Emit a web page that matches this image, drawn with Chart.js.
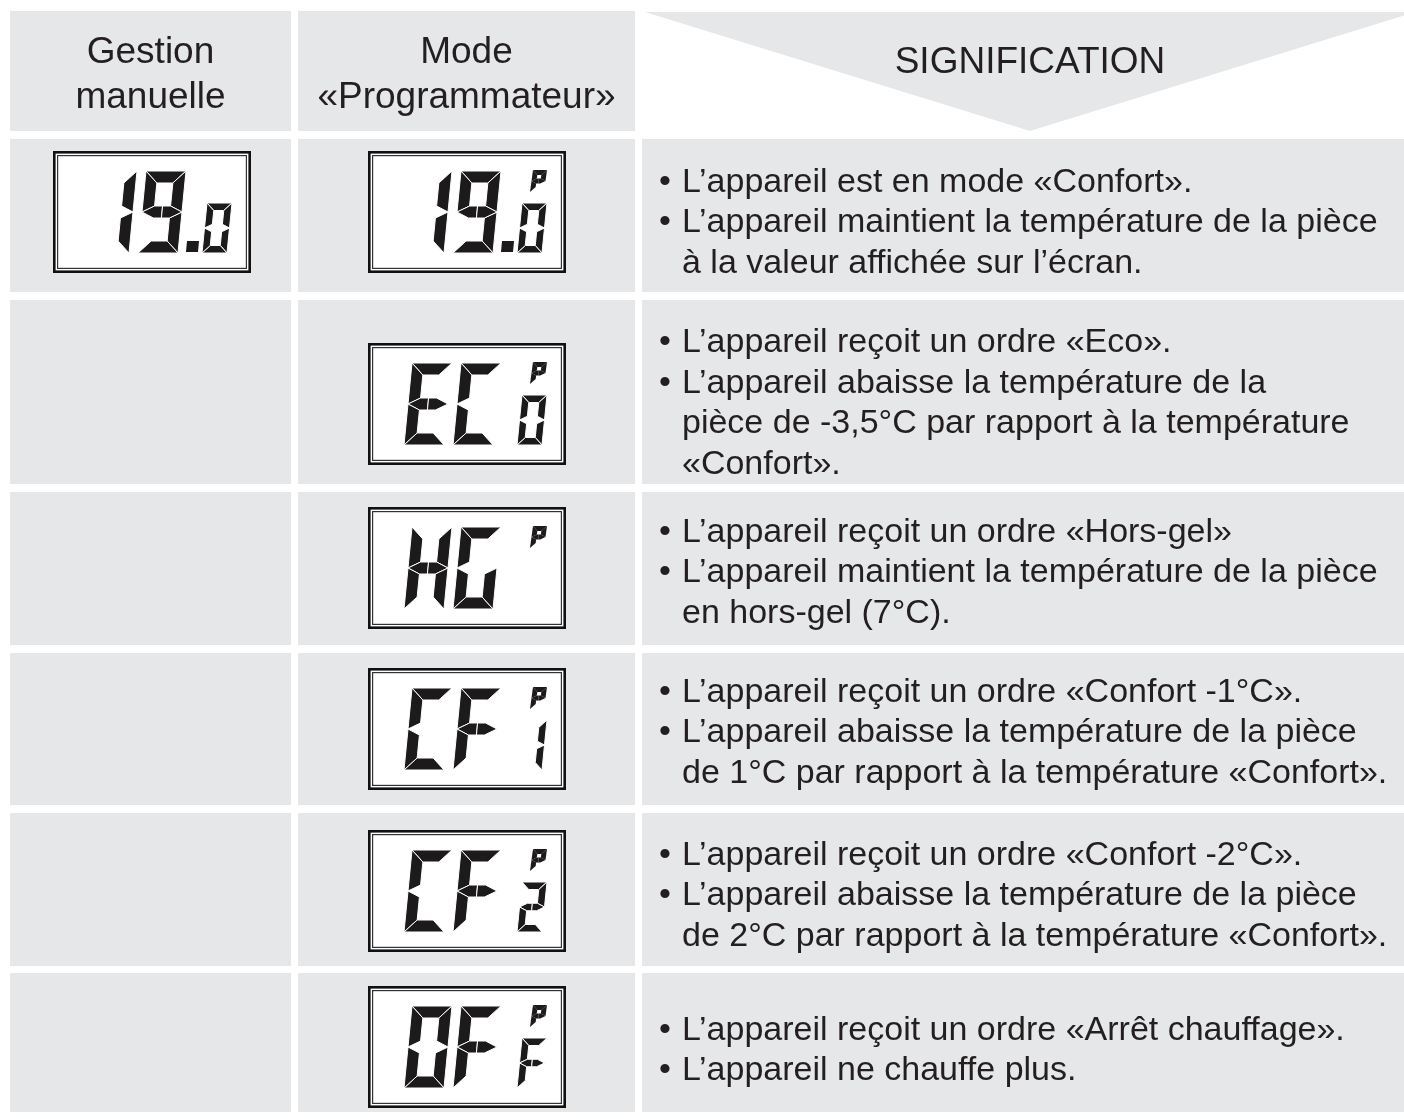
<!DOCTYPE html>
<html>
<head>
<meta charset="utf-8">
<script src="https://cdn.jsdelivr.net/npm/chart.js@4.4.1/dist/chart.umd.min.js"></script>
<style>
  html, body { margin: 0; padding: 0; background: #fff; }
  canvas { display: block; }
</style>
</head>
<body>
<canvas id="table" width="1404" height="1119"></canvas>
<script>
// table content
var headers = [["Gestion", "manuelle"], ["Mode", "«Programmateur»"], ["SIGNIFICATION"]];
var manualMain = ["19.", "", "", "", "", ""];
var manualSub = ["0", "", "", "", "", ""];
var progMain = ["19.", "EC", "HG", "CF", "CF", "OF"];
var progSub = ["0", "0", "", "1", "2", "F"];
var progFlag = ["P", "P", "P", "P", "P", "P"];
var descriptions = [
  [["L’appareil est en mode «Confort»."],
   ["L’appareil maintient la température de la pièce", "à la valeur affichée sur l’écran."]],
  [["L’appareil reçoit un ordre «Eco»."],
   ["L’appareil abaisse la température de la", "pièce de -3,5°C par rapport à la température", "«Confort»."]],
  [["L’appareil reçoit un ordre «Hors-gel»"],
   ["L’appareil maintient la température de la pièce", "en hors-gel (7°C)."]],
  [["L’appareil reçoit un ordre «Confort -1°C»."],
   ["L’appareil abaisse la température de la pièce", "de 1°C par rapport à la température «Confort»."]],
  [["L’appareil reçoit un ordre «Confort -2°C»."],
   ["L’appareil abaisse la température de la pièce", "de 2°C par rapport à la température «Confort»."]],
  [["L’appareil reçoit un ordre «Arrêt chauffage»."],
   ["L’appareil ne chauffe plus."]]
];

// layout (sheet units)
var colLeft = [10, 298, 642];
var colRight = [291, 635, 1404];
var headTop = 11, headBottom = 131;
var rowTop = [139, 300, 492, 653, 813, 973];
var rowBottom = [292, 484, 645, 805, 966, 1112];
var boxTop = [151, 343, 507, 668, 830, 986];
var textShift = [20, 9, 14, 13, 14, 13];
var boxW = 198, boxH = 122;

var GREY = "#e6e7e8";
var INK = "#231f20";
var FONT = "'Liberation Sans', Arial, sans-serif";

// seven segment maps
var SEGMENTS = {
  "0": ["a", "b", "c", "d", "e", "f"],
  "O": ["a", "b", "c", "d", "e", "f"],
  "1": ["b", "c"],
  "2": ["a", "b", "g1", "g2", "e", "d"],
  "9": ["a", "b", "c", "d", "f", "g1", "g2"],
  "E": ["a", "f", "g1", "g2", "e", "d"],
  "C": ["a", "f", "e", "d"],
  "H": ["f", "b", "g1", "g2", "e", "c"],
  "G": ["a", "f", "e", "d", "c"],
  "F": ["a", "f", "g1", "g2", "e"],
  "P": ["a", "b", "f", "g1", "g2", "e"]
};

function segPolys(W, H, t) {
  var m = H / 2, h = t / 2;
  return {
    a: [[0, 0], [W, 0], [W - t, t], [t, t]],
    b: [[W, 0], [W, m], [W - t, m - h], [W - t, t]],
    c: [[W, m], [W, H], [W - t, H - t], [W - t, m + h]],
    d: [[0, H], [t, H - t], [W - t, H - t], [W, H]],
    e: [[0, m], [t, m + h], [t, H - t], [0, H]],
    f: [[0, 0], [t, t], [t, m - h], [0, m]],
    g1: [[0, m], [t, m - h], [W / 2, m - h], [W / 2, m + h], [t, m + h]],
    g2: [[W / 2, m - h], [W - t, m - h], [W, m], [W - t, m + h], [W / 2, m + h]]
  };
}

function drawChar(ctx, X, Y, ch, x0, y0, W, H, t, s, gap) {
  var segs = SEGMENTS[ch];
  if (!segs) return;
  var polys = segPolys(W, H, t);
  segs.forEach(function (name) {
    ctx.beginPath();
    polys[name].forEach(function (p, i) {
      var px = X(x0 + p[0] + s * (1 - p[1] / H));
      var py = Y(y0 + p[1]);
      if (i === 0) ctx.moveTo(px, py); else ctx.lineTo(px, py);
    });
    ctx.closePath();
    ctx.fillStyle = "#1c1a1b";
    ctx.fill();
    if (gap > 0) {
      ctx.lineWidth = gap;
      ctx.strokeStyle = "#ffffff";
      ctx.stroke();
    }
  });
}

function drawDisplay(ctx, X, Y, bx, by, main, sub, flag) {
  // frame
  ctx.fillStyle = "#ffffff";
  ctx.fillRect(X(bx), Y(by), boxW, boxH);
  ctx.strokeStyle = "#111";
  ctx.lineWidth = 2.6;
  ctx.strokeRect(X(bx + 1.3), Y(by + 1.3), boxW - 2.6, boxH - 2.6);
  ctx.lineWidth = 1.2;
  ctx.strokeStyle = "#333";
  ctx.strokeRect(X(bx + 4.6), Y(by + 4.6), boxW - 9.2, boxH - 9.2);

  var chars = main.replace(".", "").split("");
  var n = chars.length;
  chars.forEach(function (ch, i) {
    var right = bx + 133 - (n - 1 - i) * 49;
    drawChar(ctx, X, Y, ch, right - 40 - 8, by + 20, 40, 82, 12, 8, 1);
  });
  if (main.indexOf(".") >= 0) {
    ctx.fillStyle = "#1c1a1b";
    ctx.beginPath();
    ctx.moveTo(X(bx + 134), Y(by + 90));
    ctx.lineTo(X(bx + 146), Y(by + 90));
    ctx.lineTo(X(bx + 145), Y(by + 101));
    ctx.lineTo(X(bx + 133), Y(by + 101));
    ctx.closePath();
    ctx.fill();
  }
  if (sub) drawChar(ctx, X, Y, sub, bx + 149, by + 52, 25, 50, 7.5, 5, 1);
  if (flag) drawChar(ctx, X, Y, flag, bx + 162, by + 19, 14, 22, 5, 3, 0);
}

var tablePlugin = {
  id: "tablePlugin",
  beforeDatasetsDraw: function (chart) {
    var ctx = chart.ctx;
    var X = function (v) { return chart.scales.x.getPixelForValue(v); };
    var Y = function (v) { return chart.scales.y.getPixelForValue(v); };
    ctx.save();

    // header cells
    ctx.fillStyle = GREY;
    for (var c = 0; c < 2; c++) {
      ctx.fillRect(X(colLeft[c]), Y(headTop), X(colRight[c]) - X(colLeft[c]), Y(headBottom) - Y(headTop));
    }
    ctx.beginPath();
    ctx.moveTo(X(645), Y(12));
    ctx.lineTo(X(1415), Y(12));
    ctx.lineTo(X(1030), Y(131));
    ctx.closePath();
    ctx.fill();

    ctx.fillStyle = INK;
    ctx.textAlign = "center";
    ctx.textBaseline = "alphabetic";
    ctx.font = "37px " + FONT;
    headers[0].forEach(function (s, i) { ctx.fillText(s, X((colLeft[0] + colRight[0]) / 2), Y(63 + i * 45)); });
    headers[1].forEach(function (s, i) { ctx.fillText(s, X((colLeft[1] + colRight[1]) / 2), Y(63 + i * 45)); });
    ctx.fillText(headers[2][0], X(1030), Y(73));

    // body rows
    for (var r = 0; r < rowTop.length; r++) {
      ctx.fillStyle = GREY;
      for (c = 0; c < 3; c++) {
        ctx.fillRect(X(colLeft[c]), Y(rowTop[r]), X(colRight[c]) - X(colLeft[c]), Y(rowBottom[r]) - Y(rowTop[r]));
      }
      if (manualMain[r]) drawDisplay(ctx, X, Y, 53, boxTop[r], manualMain[r], manualSub[r], "");
      drawDisplay(ctx, X, Y, 368, boxTop[r], progMain[r], progSub[r], progFlag[r]);

      // description text
      var lines = [];
      descriptions[r].forEach(function (item) {
        item.forEach(function (s, k) { lines.push({ text: s, bullet: k === 0 }); });
      });
      var mid = boxTop[r] + boxH / 2 + textShift[r];
      ctx.fillStyle = INK;
      ctx.textAlign = "left";
      ctx.font = "34px " + FONT;
      lines.forEach(function (ln, i) {
        var base = mid + (i - (lines.length - 1) / 2) * 40.5;
        if (ln.bullet) ctx.fillText("•", X(659), Y(base));
        ctx.fillText(ln.text, X(682), Y(base));
      });
    }
    ctx.restore();
  }
};

new Chart(document.getElementById("table").getContext("2d"), {
  type: "scatter",
  data: { datasets: [{ data: [] }] },
  options: {
    responsive: false,
    animation: false,
    events: [],
    layout: { padding: 0 },
    plugins: { legend: { display: false }, tooltip: { enabled: false } },
    scales: {
      x: { type: "linear", min: 0, max: 1404, display: false },
      y: { type: "linear", min: 0, max: 1119, reverse: true, display: false }
    }
  },
  plugins: [tablePlugin]
});
</script>
</body>
</html>
